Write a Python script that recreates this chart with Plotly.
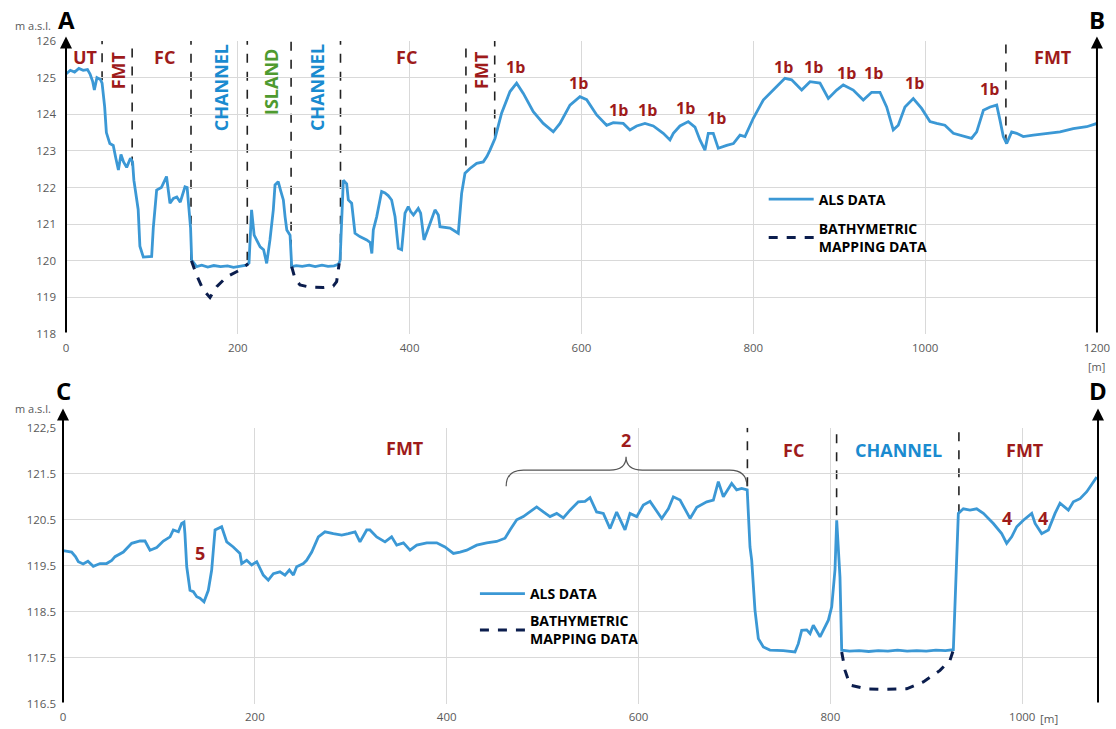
import plotly.graph_objects as go
import numpy as np

# ---------------- DATA ----------------
# Profile A-B (top)
als_ab_x = [0, 5, 10, 15, 20, 25, 28, 31, 33, 36, 40, 42, 45, 47, 51, 55, 58, 61, 64, 67, 70.6, 75, 77.5,
            79, 84, 86, 90, 95, 99.7, 101.6, 105.5, 111, 117, 121, 125, 129, 133, 138.5, 141, 145, 146.3,
            152, 158, 165, 172, 180, 188, 195, 203, 210, 213, 216, 219, 222, 226, 230, 233.6, 237.4, 241.3,
            243.3, 247, 250, 253, 255, 257, 260.8, 262.7, 268, 275, 283, 290, 298, 305, 312, 317, 319,
            322.8, 326.7, 328.6, 332.5, 336.4, 342, 350, 354, 356, 357.7, 361.6, 367.4, 371.3, 375, 379,
            383, 386.8, 390.7, 394.6, 398.4, 401, 404.4, 410, 412.8, 416.7, 421.7, 425, 429.5, 433.4,
            435.3, 447, 452, 456.6, 460.5, 464.4, 470.2, 478, 485.7, 490, 493.5, 499.3, 507, 516.8, 524.5,
            532.3, 543.9, 555.5, 567.2, 575, 586.6, 598.2, 606, 617.7, 629.3, 637, 648.6, 656.4, 664.2,
            673.9, 683.6, 695.2, 703, 706.9, 714.6, 724.3, 732.1, 737.9, 743.7, 747.6, 753.4, 759.2, 769,
            776.8, 784.5, 790.3, 800, 811.6, 823.2, 836.8, 844.6, 856.3, 866, 877.6, 887.3, 897, 904.7,
            916.3, 928, 937.7, 947.4, 955.2, 962.9, 968.7, 976.5, 986.2, 995.9, 1005.6, 1013.4, 1023,
            1032.8, 1040.6, 1048.3, 1054, 1060, 1067.8, 1075.6, 1083.3, 1087.1, 1091, 1094.9, 1100.7,
            1106.5, 1114.2, 1125.9, 1141.4, 1157, 1172.4, 1188, 1200]
als_ab_y = [125.1, 125.2, 125.15, 125.25, 125.2, 125.22, 125.1, 124.9, 124.66, 125.0, 124.95, 124.85, 124.2,
            123.5, 123.2, 123.15, 122.8, 122.48, 122.9, 122.7, 122.55, 122.8, 122.7,
            122.2, 121.4, 120.4, 120.1, 120.12, 120.12, 120.9, 121.93, 122.0, 122.3, 121.57, 121.7, 121.74,
            121.6, 122.02, 122.0, 120.9, 120.02,
            119.84, 119.88, 119.83, 119.87, 119.84, 119.86, 119.82, 119.85, 119.88, 119.94, 121.39, 120.7,
            120.57, 120.38, 120.3, 119.93, 120.57, 121.39,
            122.07, 122.16, 121.9, 121.66, 121.2, 120.84, 120.7, 119.84, 119.87, 119.85, 119.88, 119.84,
            119.88, 119.85, 119.86, 119.9, 120.0,
            122.2, 122.1, 121.66, 121.57, 120.75, 120.66, 120.57, 120.5, 120.2, 120.84, 121.2, 121.89,
            121.85, 121.78, 121.66,
            121.2, 120.34, 120.3, 121.3, 121.48, 121.35, 121.25, 121.43, 121.3, 120.57, 120.89, 121.1,
            121.39, 121.25,
            120.93, 120.89, 120.82, 120.75, 121.84, 122.39, 122.52, 122.66, 122.7, 122.85, 123.02, 123.34,
            124.03, 124.62, 124.85,
            124.57, 124.07, 123.75, 123.52, 123.75, 124.25, 124.48, 124.4, 123.98, 123.7, 123.77, 123.75,
            123.57, 123.68,
            123.75, 123.68, 123.48, 123.3, 123.48, 123.68, 123.8, 123.65, 123.3, 123.02, 123.48, 123.48,
            123.07, 123.15,
            123.2, 123.43, 123.39, 123.89, 124.39, 124.66, 124.98, 124.94, 124.66, 124.89, 124.85, 124.43,
            124.66, 124.8,
            124.66, 124.39, 124.6, 124.6, 124.2, 123.57, 123.7, 124.2, 124.43, 124.16, 123.8, 123.75, 123.7,
            123.48, 123.43, 123.39, 123.34, 123.52, 124.11, 124.2, 124.25, 123.84, 123.39, 123.2, 123.52,
            123.48, 123.39, 123.43, 123.48, 123.52, 123.61, 123.66, 123.75]

bathy_ab1_x = [146, 152, 159.8, 167.6, 175.4, 187, 202.5, 212]
bathy_ab1_y = [120.0, 119.61, 119.2, 119.0, 119.29, 119.56, 119.75, 119.92]
bathy_ab2_x = [262.7, 266.5, 272.3, 284, 299.5, 311, 315, 318]
bathy_ab2_y = [119.84, 119.52, 119.34, 119.28, 119.27, 119.31, 119.43, 119.93]

# Profile C-D (bottom)
als_cd_x = [0, 9, 13, 16, 21, 26, 31.6, 38.6, 45.5, 50.8, 54.2, 62.9, 71.6, 80.3, 85.5, 90.7, 97.7, 104.6,
            111.6, 115, 120.3, 123.7, 126.1, 127.1, 129, 132.4, 135.9, 139.4, 142.8, 147, 151.5, 155,
            158.5, 165.4, 170.7, 177.5, 184.5, 186.3, 191.5, 196.7, 202, 208.8, 214, 219.3, 226.2, 231.4,
            236, 240.2, 243.6, 250.6, 254, 259.3, 266.2, 273.1, 281.8, 290.6, 297.5, 304.5, 309.6, 316.6,
            320, 327, 335.7, 342.6, 347.9, 354.9, 361.8, 368.8, 379.2, 389.6, 398.2, 407, 413.9, 420.9,
            431.3, 441.7, 452.1, 460.8, 466, 473, 479.9, 486.9, 493.8, 500.8, 507.7, 514.7, 521.6, 528.6,
            537.2, 544.2, 549.4, 556.3, 563.3, 570.3, 577.2, 585.9, 591.1, 598.1, 605, 612, 617.2, 624.2,
            631.1, 636.3, 643.3, 653.7, 660.7, 671.1, 678, 683.2, 688.4, 697.1, 702.3, 707.5, 713.3,
            716.2, 718, 721.4, 724.9, 730.1, 737, 750.9, 763.1, 766.6, 770.1, 775.3, 778.8, 782.2, 789.2,
            792.7, 797.9, 801.4, 804.8, 806.6, 810, 811.8, 820, 830, 840, 850, 860, 870, 880, 890, 900,
            910, 920, 928.2, 931.7, 933.4, 938.6, 945.6, 952.5, 959.5, 969.9, 978.6, 983.8, 989, 994.3,
            1001.2, 1009.9, 1013.4, 1020.3, 1027.3, 1034.2, 1039.4, 1048.1, 1053.3, 1060.3, 1067.3, 1077.7]
als_cd_y = [119.83, 119.8, 119.7, 119.59, 119.54, 119.6, 119.49, 119.55, 119.55, 119.62, 119.7, 119.8, 119.99,
            120.04, 120.04, 119.84, 119.9, 120.04,
            120.13, 120.28, 120.24, 120.42, 120.45, 120.2, 119.48, 118.97, 118.94, 118.83, 118.8, 118.72,
            118.97, 119.41,
            120.28, 120.35, 120.02, 119.91, 119.77, 119.55, 119.62, 119.52, 119.59, 119.3, 119.19, 119.33,
            119.37, 119.3,
            119.41, 119.3, 119.48, 119.55, 119.62, 119.8, 120.13, 120.24, 120.2, 120.17, 120.2, 120.24,
            120.02, 120.28,
            120.28, 120.13, 120.02, 120.13, 119.95, 120.0, 119.84, 119.95, 120.0, 120.0, 119.91, 119.77,
            119.8, 119.84,
            119.95, 120.0, 120.03, 120.1, 120.28, 120.5, 120.57, 120.67, 120.78, 120.67, 120.57, 120.64,
            120.54, 120.71,
            120.89, 120.9, 120.98, 120.67, 120.64, 120.31, 120.67, 120.28, 120.64, 120.57, 120.82, 120.9,
            120.75, 120.53,
            120.74, 121.0, 120.93, 120.53, 120.77, 120.89, 120.93, 121.33, 121.0, 121.29, 121.15, 121.18,
            121.15,
            119.91, 119.62, 118.54, 117.92, 117.74, 117.67, 117.66, 117.63, 117.81, 118.1, 118.11, 118.03,
            118.21, 117.96,
            118.1, 118.32, 118.61, 119.41, 120.49, 119.26, 117.67, 117.65, 117.66, 117.64, 117.66, 117.65,
            117.67, 117.65, 117.66, 117.65,
            117.67, 117.66, 117.68, 119.62, 120.64, 120.74, 120.71, 120.74, 120.64, 120.42, 120.2, 119.99,
            120.13, 120.35,
            120.49, 120.64, 120.42, 120.2, 120.28, 120.64, 120.86, 120.71, 120.89, 120.96, 121.11, 121.43]

bathy_cd_x = [811.8, 815.3, 820.5, 837.9, 855.2, 879.6, 896.9, 914.3, 924.7, 928.2]
bathy_cd_y = [117.63, 117.23, 116.91, 116.83, 116.82, 116.83, 116.98, 117.23, 117.45, 117.67]

# Unit boundaries (dashed verticals): x position and lower end
bound_ab_x = [42, 77, 145.5, 211, 262, 319.5, 465.5, 499, 1094]
bound_ab_low = [124.93, 122.6, 120.0, 120.0, 119.84, 120.0, 122.6, 123.39, 123.2]
bound_cd_x = [713.5, 806.5, 934]
bound_cd_low = [121.23, 120.6, 120.64]

# Labels (text, x, y, colour key, rotated)
labels_ab = [("UT", 23, 125.56, "red", False), ("FMT", 60.5, 125.2, "red", True),
             ("FC", 115, 125.56, "red", False), ("CHANNEL", 180.4, 124.74, "blue", True),
             ("ISLAND", 238.6, 124.88, "green", True), ("CHANNEL", 292.1, 124.74, "blue", True),
             ("FC", 396.5, 125.56, "red", False), ("FMT", 483.8, 125.2, "red", True),
             ("1b", 523.7, 125.3, "red", False), ("1b", 597, 124.85, "red", False),
             ("1b", 642.5, 124.12, "red", False), ("1b", 677.4, 124.12, "red", False),
             ("1b", 721.6, 124.17, "red", False), ("1b", 757.7, 123.9, "red", False),
             ("1b", 835.7, 125.29, "red", False), ("1b", 870.6, 125.29, "red", False),
             ("1b", 907.9, 125.13, "red", False), ("1b", 940.4, 125.13, "red", False),
             ("1b", 988.1, 124.85, "red", False), ("1b", 1075.4, 124.69, "red", False),
             ("FMT", 1148.7, 125.56, "red", False)]
labels_cd = [("FMT", 356.5, 122.05, "red"), ("2", 587, 122.23, "red"), ("FC", 762, 122.02, "red"),
             ("CHANNEL", 870.8, 122.02, "blue"), ("FMT", 1003, 122.02, "red"),
             ("4", 983.8, 120.53, "red"), ("4", 1021.4, 120.53, "red"), ("5", 142.8, 119.78, "red")]

# Brace over unit "2": left end, tip, right end (x) and end / arm / tip heights (y)
brace_x = [462, 587, 713]
brace_y = [121.23, 121.58, 121.87]

ab_xticks = [0, 200, 400, 600, 800, 1000, 1200]
ab_yticks = [118, 119, 120, 121, 122, 123, 124, 125, 126]
cd_xticks = [0, 200, 400, 600, 800, 1000]
cd_yticks = [116.5, 117.5, 118.5, 119.5, 120.5, 121.5, 122.5]
cd_yticktext = ["116.5", "117.5", "118.5", "119.5", "120.5", "121.5", "122,5"]

# ---------------- STYLE ----------------
ALS = "#3b98d5"
BATHY = "#0b1d4d"
COL = {"red": "#9e1b1b", "blue": "#1a8bd0", "green": "#4e9a2f"}
FONT = "Open Sans"
GRID = "#d9d9d9"
TICKC = "#595959"

fig = go.Figure()

fig.add_trace(go.Scatter(x=als_ab_x, y=als_ab_y, mode="lines", name="<b>ALS DATA</b>",
                         line=dict(color=ALS, width=2.8), xaxis="x", yaxis="y",
                         legend="legend", legendgroup="a1"))
fig.add_trace(go.Scatter(x=bathy_ab1_x, y=bathy_ab1_y, mode="lines",
                         name="<b>BATHYMETRIC<br>MAPPING DATA</b>",
                         line=dict(color=BATHY, width=3, dash="dash"), xaxis="x", yaxis="y",
                         legend="legend", legendgroup="a2"))
fig.add_trace(go.Scatter(x=bathy_ab2_x, y=bathy_ab2_y, mode="lines", showlegend=False,
                         line=dict(color=BATHY, width=3, dash="dash"), xaxis="x", yaxis="y"))

fig.add_trace(go.Scatter(x=als_cd_x, y=als_cd_y, mode="lines", name="<b>ALS DATA</b>",
                         line=dict(color=ALS, width=2.8), xaxis="x2", yaxis="y2",
                         legend="legend2", legendgroup="b1"))
fig.add_trace(go.Scatter(x=bathy_cd_x, y=bathy_cd_y, mode="lines",
                         name="<b>BATHYMETRIC<br>MAPPING DATA</b>",
                         line=dict(color=BATHY, width=3, dash="dash"), xaxis="x2", yaxis="y2",
                         legend="legend2", legendgroup="b2"))

# dashed unit boundaries
for bx, by in zip(bound_ab_x, bound_ab_low):
    fig.add_shape(type="line", xref="x", yref="y", x0=bx, x1=bx, y0=by, y1=ab_yticks[-1],
                  line=dict(color="#222222", width=1.6, dash="dash"), layer="below")
for bx, by in zip(bound_cd_x, bound_cd_low):
    fig.add_shape(type="line", xref="x2", yref="y2", x0=bx, x1=bx, y0=by, y1=cd_yticks[-1],
                  line=dict(color="#222222", width=1.6, dash="dash"), layer="below")

# brace
xl, xm, xr = brace_x
ye, ya, yt = brace_y
path = (f"M{xl},{ye} Q{xl},{ya} {xl+18},{ya} L{xm-17},{ya} Q{xm},{ya} {xm},{yt} "
        f"Q{xm},{ya} {xm+17},{ya} L{xr-18},{ya} Q{xr},{ya} {xr},{ye}")
fig.add_shape(type="path", xref="x2", yref="y2", path=path, line=dict(color="#555555", width=1.2))

ann = []
for t, x, y, c, rot in labels_ab:
    ann.append(dict(x=x, y=y, xref="x", yref="y", text=f"<b>{t}</b>", showarrow=False,
                    textangle=-90 if rot else 0,
                    font=dict(family=FONT, size=16 if t == "1b" else 18, color=COL[c])))
for t, x, y, c in labels_cd:
    ann.append(dict(x=x, y=y, xref="x2", yref="y2", text=f"<b>{t}</b>", showarrow=False,
                    font=dict(family=FONT, size=18, color=COL[c])))

# axis arrows
for xr_, yr_, xv, y0, y1 in [("x", "y", 0, 118, 126.12), ("x", "y", 1200, 118, 126.12),
                             ("x2", "y2", 0, 116.5, 122.92), ("x2", "y2", 1079, 116.5, 122.92)]:
    ann.append(dict(x=xv, y=y1, ax=xv, ay=y0, xref=xr_, yref=yr_, axref=xr_, ayref=yr_,
                    showarrow=True, arrowhead=2, arrowsize=1.2, arrowwidth=2, arrowcolor="black",
                    text=""))

# corner letters
for t, xr_, xv, yv in [("A", "x", 0, 1.032), ("B", "x", 1200, 1.032),
                       ("C", "x2", 0, 0.4736), ("D", "x2", 1079, 0.4736)]:
    ann.append(dict(x=xv, y=yv, xref=xr_, yref="paper", yanchor="middle", xanchor="center",
                    text=f"<b>{t}</b>", showarrow=False,
                    font=dict(family=FONT, size=24, color="black")))

for yv in [1.024, 0.445]:
    ann.append(dict(x=-0.0097, y=yv, xref="paper", yref="paper", xanchor="right", yanchor="middle",
                    text="m a.s.l.", showarrow=False, font=dict(family=FONT, size=11, color=TICKC)))
ann.append(dict(x=1200, y=0.5083, xref="x", yref="paper", yanchor="middle", text="[m]",
                showarrow=False, font=dict(family=FONT, size=11, color=TICKC)))
ann.append(dict(x=1000, y=-0.0226, xref="x2", yref="paper", xanchor="left", yanchor="middle",
                xshift=16, text="[m]", showarrow=False,
                font=dict(family=FONT, size=11.5, color=TICKC)))

axis_common = dict(showgrid=True, gridcolor=GRID, gridwidth=1, zeroline=False, showline=False,
                   ticks="", automargin=False, tickfont=dict(family=FONT, size=11.5, color=TICKC))

fig.update_layout(
    width=1116, height=729,
    margin=dict(l=63, r=18, t=41, b=25, autoexpand=False),
    paper_bgcolor="white", plot_bgcolor="white",
    xaxis=dict(domain=[0.0029, 0.999], range=[0, 1200], tickvals=ab_xticks, anchor="y",
               ticklabelstandoff=5, **axis_common),
    yaxis=dict(domain=[0.558, 1.0], range=[118, 126], tickvals=ab_yticks, anchor="x",
               ticklabelstandoff=9, **axis_common),
    xaxis2=dict(domain=[0.0, 1.0], range=[0, 1079], tickvals=cd_xticks, anchor="y2",
                ticklabelstandoff=4, **axis_common),
    yaxis2=dict(domain=[0.0, 0.4167], range=[116.5, 122.5], tickvals=cd_yticks,
                ticktext=cd_yticktext, anchor="x2", ticklabelstandoff=6, **axis_common),
    annotations=ann,
    legend=dict(x=0.677, y=0.785, xanchor="left", yanchor="top", bgcolor="rgba(0,0,0,0)",
                font=dict(family=FONT, size=14, color="black"), tracegroupgap=8, itemwidth=45),
    legend2=dict(x=0.398, y=0.19, xanchor="left", yanchor="top", bgcolor="rgba(0,0,0,0)",
                 font=dict(family=FONT, size=14, color="black"), tracegroupgap=6, itemwidth=45),
    showlegend=True,
)

fig.write_html("out.html", config={"displayModeBar": False},
               post_script="document.body.style.margin='0px';")
